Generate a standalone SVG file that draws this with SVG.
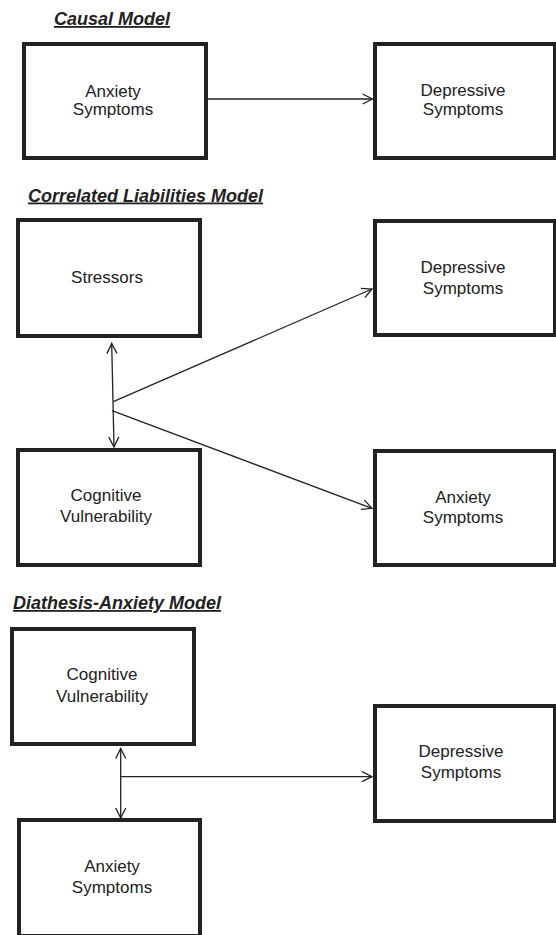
<svg xmlns="http://www.w3.org/2000/svg" width="556" height="935" viewBox="0 0 556 935">
<style>
.box{fill:#fff;stroke:#222;stroke-width:4}
.lbl{font-family:"Liberation Sans",Arial,sans-serif;font-size:17px;fill:#222;text-anchor:middle}
.ttl{font-family:"Liberation Sans",Arial,sans-serif;font-size:18px;font-weight:bold;font-style:italic;fill:#222;text-decoration:underline}
.con{fill:none;stroke:#222;stroke-width:1.3}
.arr{marker-end:url(#ah)}
.dbl{marker-start:url(#ah);marker-end:url(#ah)}
</style>
<defs>
<marker id="ah" markerUnits="userSpaceOnUse" markerWidth="14" markerHeight="14" refX="11" refY="6" orient="auto-start-reverse" viewBox="0 0 14 14">
<path d="M1,1 L11,6 L1,11" fill="none" stroke="#222" stroke-width="1.3"/>
</marker>
</defs>
<rect width="556" height="935" fill="#fff"/>
<text class="ttl" x="54" y="25">Causal Model</text>
<text class="ttl" x="28" y="201.5">Correlated Liabilities Model</text>
<text class="ttl" x="13" y="609">Diathesis-Anxiety Model</text>
<g id="c-anx"><rect class="box" x="24" y="44" width="182" height="114"/><text class="lbl" x="113" y="96.5">Anxiety</text><text class="lbl" x="113" y="115">Symptoms</text></g>
<g id="c-dep"><rect class="box" x="375" y="44" width="180" height="114"/><text class="lbl" x="463" y="96">Depressive</text><text class="lbl" x="463" y="115">Symptoms</text></g>
<g id="l-str"><rect class="box" x="18" y="220" width="182" height="116"/><text class="lbl" x="107" y="283">Stressors</text></g>
<g id="l-dep"><rect class="box" x="375" y="221" width="180" height="114"/><text class="lbl" x="463" y="273">Depressive</text><text class="lbl" x="463" y="293.5">Symptoms</text></g>
<g id="l-cog"><rect class="box" x="18" y="450" width="182" height="115"/><text class="lbl" x="106" y="501">Cognitive</text><text class="lbl" x="106" y="522">Vulnerability</text></g>
<g id="l-anx"><rect class="box" x="375" y="451" width="180" height="114"/><text class="lbl" x="463" y="503">Anxiety</text><text class="lbl" x="463" y="523">Symptoms</text></g>
<g id="d-cog"><rect class="box" x="12" y="629" width="182" height="115"/><text class="lbl" x="102" y="680">Cognitive</text><text class="lbl" x="102" y="701.5">Vulnerability</text></g>
<g id="d-dep"><rect class="box" x="375" y="706" width="180" height="115"/><text class="lbl" x="461" y="756.5">Depressive</text><text class="lbl" x="461" y="778">Symptoms</text></g>
<g id="d-anx"><rect class="box" x="19" y="820" width="181" height="116"/><text class="lbl" x="112" y="872">Anxiety</text><text class="lbl" x="112" y="893">Symptoms</text></g>
<g id="connectors">
<line class="con arr" x1="208" y1="99" x2="372.5" y2="99"/>
<line class="con dbl" x1="111.7" y1="343.5" x2="114" y2="447"/>
<line class="con arr" x1="113.3" y1="401.7" x2="372" y2="289"/>
<line class="con arr" x1="112" y1="410.7" x2="372" y2="508.3"/>
<line class="con dbl" x1="120.7" y1="748.5" x2="120.7" y2="818"/>
<line class="con arr" x1="120.7" y1="776.7" x2="372" y2="776.7"/>
</g>
</svg>
